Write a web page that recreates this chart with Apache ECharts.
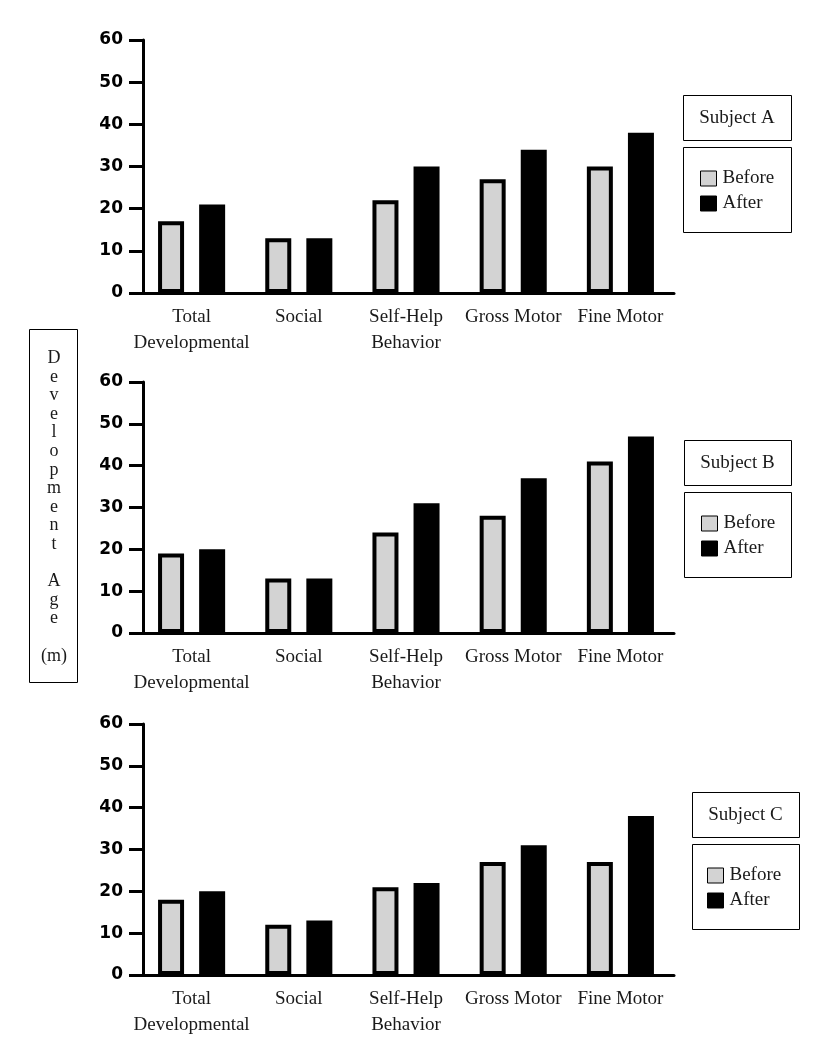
<!DOCTYPE html>
<html><head><meta charset="utf-8">
<script src="https://cdn.jsdelivr.net/npm/echarts@6/dist/echarts.min.js"></script>
<style>html,body{margin:0;padding:0;background:#fff}#c{width:827px;height:1045px}</style>
</head><body><div id="c"></div>
<script>
// ---- data ----
const categories = ['Total\nDevelopmental', 'Social', 'Self-Help\nBehavior', 'Gross Motor', 'Fine Motor'];
const seriesNames = ['Before', 'After'];
const subjects = ['Subject A', 'Subject B', 'Subject C'];
const beforeA = [17, 13, 22, 27, 30];
const afterA  = [21, 13, 30, 34, 38];
const beforeB = [19, 13, 24, 28, 41];
const afterB  = [20, 13, 31, 37, 47];
const beforeC = [18, 12, 21, 27, 27];
const afterC  = [20, 13, 22, 31, 38];
const yMin = 0, yMax = 60, yStep = 10;
const yTitle = 'Development Age (m)';

// ---- layout ----
const panels = [
  { top: 40,  height: 253, box: { x: 683, y: 95,  w: 108 }, legendLeft: 700 },
  { top: 382, height: 251, box: { x: 684, y: 440, w: 107 }, legendLeft: 701 },
  { top: 724, height: 251, box: { x: 692, y: 792, w: 107 }, legendLeft: 707 }
];
const values = [[beforeA, afterA], [beforeB, afterB], [beforeC, afterC]];
const SERIF = '"Liberation Serif", "DejaVu Serif", serif';
const BLACK = '#000';
const GRAY = '#d3d3d3';

const grid = [], xAxis = [], yAxis = [], series = [], legend = [], graphic = [];
panels.forEach((p, i) => {
  grid.push({ left: 138, width: 536, top: p.top, height: p.height, containLabel: false });
  xAxis.push({
    type: 'category', gridIndex: i, data: categories,
    axisLine: { lineStyle: { color: BLACK, width: 3 } },
    axisTick: { alignWithLabel: true, length: 10, lineStyle: { color: BLACK, width: 3 } },
    axisLabel: { margin: 11, interval: 0, fontFamily: SERIF, fontSize: 19, lineHeight: 26,
                 color: '#1a1a1a', verticalAlign: 'top' }
  });
  yAxis.push({
    type: 'value', gridIndex: i, min: yMin, max: yMax, interval: yStep, offset: -5,
    axisLine: { show: true, lineStyle: { color: BLACK, width: 3 } },
    axisTick: { show: true, length: 14, lineStyle: { color: BLACK, width: 3 } },
    splitLine: { show: false },
    axisLabel: { margin: 20, fontFamily: '"DejaVu Sans", sans-serif', fontWeight: 'bold',
                 fontSize: 17, color: BLACK, padding: [5, 0, 0, 0] }
  });
  seriesNames.forEach((name, k) => {
    series.push({
      type: 'bar', name: name, xAxisIndex: i, yAxisIndex: i, data: values[i][k],
      barWidth: 26, barGap: '58%',
      itemStyle: { color: k === 0 ? GRAY : BLACK, borderColor: BLACK, borderWidth: 4 },
      emphasis: { disabled: true }
    });
  });
  const b = p.box;
  const legendTop = b.y + 52;
  legend.push({
    orient: 'vertical', left: p.legendLeft, top: legendTop + 22, padding: 0,
    itemWidth: 16, itemHeight: 15, itemGap: 6, data: seriesNames,
    icon: 'rect',
    itemStyle: { borderWidth: 1, borderColor: BLACK },
    textStyle: { fontFamily: SERIF, fontSize: 19, color: '#1a1a1a', lineHeight: 19, padding: [0, 0, 0, 1] },
    selectedMode: false
  });
  graphic.push(
    { type: 'rect', shape: { x: b.x + 0.5, y: b.y + 0.5, width: b.w, height: 45 },
      style: { fill: 'none', stroke: BLACK, lineWidth: 1 } },
    { type: 'text', x: b.x + b.w / 2, y: b.y + 23,
      style: { text: subjects[i], font: '19px ' + SERIF, fill: '#1a1a1a', textAlign: 'center', textVerticalAlign: 'middle' } },
    { type: 'rect', shape: { x: b.x + 0.5, y: legendTop + 0.5, width: b.w, height: 85 },
      style: { fill: 'none', stroke: BLACK, lineWidth: 1 } }
  );
});

// vertical y-axis title: letters stacked, blank line between words, "(m)" kept whole
const yTitleLines = [];
yTitle.split(' ').forEach((w, idx) => {
  if (idx > 0) yTitleLines.push('');
  if (w.startsWith('(')) yTitleLines.push(w); else w.split('').forEach(ch => yTitleLines.push(ch));
});
graphic.push(
  { type: 'rect', shape: { x: 29.5, y: 329.5, width: 48, height: 353 },
    style: { fill: 'none', stroke: BLACK, lineWidth: 1 } },
  { type: 'text', x: 54, y: 349,
    style: { text: yTitleLines.join('\n'), font: '18px ' + SERIF, lineHeight: 18.6, fill: '#1a1a1a',
             textAlign: 'center', textVerticalAlign: 'top' } }
);

const chart = echarts.init(document.getElementById('c'), null, { renderer: 'canvas' });
chart.setOption({
  animation: false,
  backgroundColor: '#fff',
  grid, xAxis, yAxis, series, legend, graphic
});
</script>
</body></html>
